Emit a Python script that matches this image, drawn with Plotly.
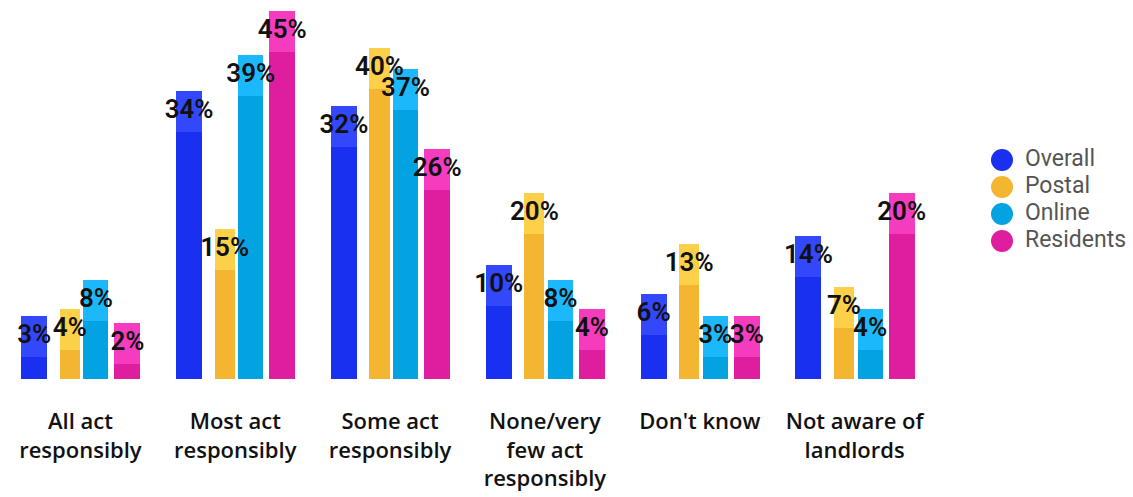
import plotly.graph_objects as go

# Survey responses (%) by group
categories = [
    "All act<br>responsibly",
    "Most act<br>responsibly",
    "Some act<br>responsibly",
    "None/very<br>few act<br>responsibly",
    "Don't know",
    "Not aware of<br>landlords",
]
series_names = ["Overall", "Postal", "Online", "Residents"]
overall = [3, 34, 32, 10, 6, 14]
postal = [4, 15, 40, 20, 13, 7]
online = [8, 39, 37, 8, 3, 4]
residents = [2, 45, 26, 4, 3, 20]
values = [overall, postal, online, residents]

# Styling: body colour, cap colour, bar centre offset and width (in category units)
body_colors = ["#1a30f0", "#f4b630", "#02a3e0", "#de1d9f"]
cap_colors = ["#3348fb", "#fdd04a", "#1bb9fb", "#f53cbf"]
offsets = [-0.298, -0.068, 0.100, 0.304]
widths = [0.168, 0.130, 0.162, 0.168]
CAP = 5.65          # height of the lighter top band, in axis units
Y_MAX = 52.2

fig = go.Figure()
xs = list(range(len(categories)))

for k, name in enumerate(series_names):
    vals = values[k]
    bx = [i + offsets[k] for i in xs]
    fig.add_trace(go.Bar(
        x=bx, y=vals, width=widths[k], marker=dict(color=body_colors[k], line=dict(width=0)),
        showlegend=False, hoverinfo="skip",
    ))
    fig.add_trace(go.Bar(
        x=bx, y=[CAP] * len(vals), base=vals, width=widths[k],
        marker=dict(color=cap_colors[k], line=dict(width=0)),
        showlegend=False, hoverinfo="skip",
    ))

# value labels centred on each bar's cap
for k, name in enumerate(series_names):
    vals = values[k]
    fig.add_trace(go.Scatter(
        x=[i + offsets[k] for i in xs], y=[v + CAP / 2 for v in vals],
        mode="text", text=[f"{v}%" for v in vals], textposition="middle center",
        textfont=dict(family="Roboto", size=26, color="#111111", weight=600),
        showlegend=False, hoverinfo="skip", cliponaxis=False,
    ))

# legend: circle markers with series names on an auxiliary pixel-scaled axis
leg_y = [160 + 27 * i for i in range(len(series_names))]
fig.add_trace(go.Scatter(
    x=[70] * len(series_names), y=leg_y, mode="markers",
    marker=dict(size=22, color=body_colors, line=dict(width=0)),
    xaxis="x2", yaxis="y2", showlegend=False, hoverinfo="skip",
))
fig.add_trace(go.Scatter(
    x=[93] * len(series_names), y=leg_y, mode="text", text=series_names,
    textposition="middle right",
    textfont=dict(family="Roboto", size=23, color="#555555"),
    xaxis="x2", yaxis="y2", showlegend=False, hoverinfo="skip", cliponaxis=False,
))

split = 929 / 1130
fig.update_layout(
    width=1133, height=497,
    margin=dict(l=3, r=0, t=0, b=118),
    paper_bgcolor="white", plot_bgcolor="white",
    barmode="overlay", bargap=0,
    showlegend=False,
    xaxis=dict(
        domain=[0, split], range=[-0.5, 5.5],
        tickmode="array", tickvals=xs, ticktext=categories,
        showgrid=False, zeroline=False, showline=False, ticks="",
        ticklabelstandoff=27,
        tickfont=dict(family="Open Sans", size=22, color="#111111", weight=600),
    ),
    yaxis=dict(range=[0, Y_MAX], visible=False, showgrid=False, zeroline=False),
    xaxis2=dict(domain=[split, 1], range=[0, 201], visible=False, anchor="y2"),
    yaxis2=dict(domain=[0, 1], range=[379, 0], visible=False, anchor="x2"),
)

fig.write_html("out.html")
